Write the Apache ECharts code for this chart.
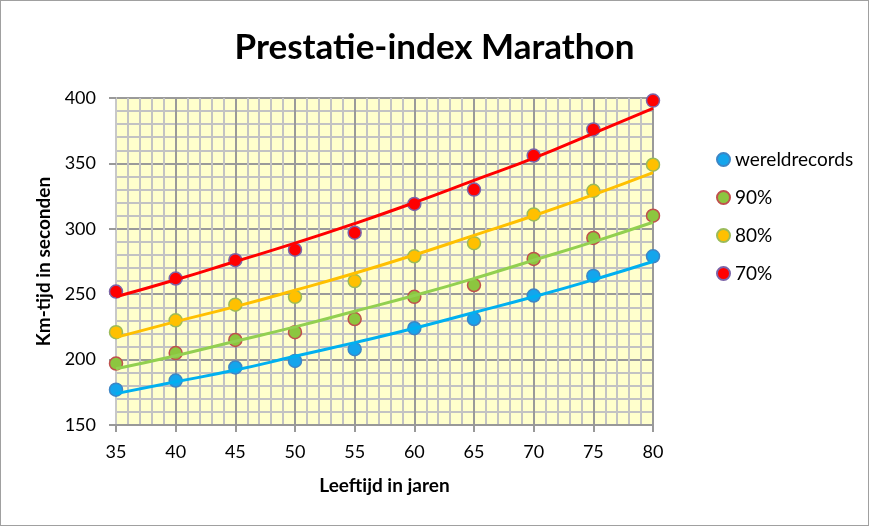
<!DOCTYPE html>
<html>
<head>
<meta charset="utf-8">
<script src="https://cdn.jsdelivr.net/npm/echarts@6/dist/echarts.min.js"></script>
<style>
html,body{margin:0;padding:0;background:#fff;}
#c{width:867px;height:524px;border:1px solid #a0a0a0;}
</style>
</head>
<body>
<div id="c"></div>
<script>
const leeftijd = [35, 40, 45, 50, 55, 60, 65, 70, 75, 80];
const wereldrecords = [177, 184, 194, 199, 208, 224, 231, 249, 264, 279];
const pct90 = [197, 205, 215, 221, 231, 248, 257, 277, 293, 310];
const pct80 = [221, 230, 242, 248, 260, 279, 289, 311, 329, 349];
const pct70 = [252, 262, 276, 284, 297, 319, 330, 356, 376, 398];
// trendlines
const trendWR = [174, 183, 192, 202.5, 213, 224, 236, 248, 261, 275];
const trend90 = [193, 203, 214, 225, 237, 249, 262, 276, 290, 305];
const trend80 = [217, 229, 240.5, 253, 266, 280, 295, 310, 326, 343];
const trend70 = [248, 261, 275, 289, 304, 320, 337, 354, 373, 392];

const pts = a => leeftijd.map((x, i) => [x, a[i]]);
const FONT = 'Lato, "Open Sans", sans-serif';

function scatter(name, data, fill, border) {
  return {
    name, type: 'scatter', data: pts(data), symbol: 'circle', symbolSize: 13, z: 3,
    itemStyle: {color: fill, borderColor: border, borderWidth: 1.5, opacity: 1}
  };
}
function trend(data, color) {
  return {
    type: 'line', data: pts(data), showSymbol: false, symbol: 'none', smooth: true, z: 4,
    lineStyle: {color, width: 3}, silent: true
  };
}

const chart = echarts.init(document.getElementById('c'));
chart.setOption({
  animation: false,
  title: {
    text: 'Prestatie-index Marathon', left: 'center', top: 24,
    textStyle: {fontFamily: FONT, fontWeight: 'bold', fontSize: 35, color: '#000'}
  },
  legend: {
    orient: 'vertical', left: 710, top: 144, itemGap: 19, itemWidth: 13, itemHeight: 13,
    data: ['wereldrecords', '90%', '80%', '70%'],
    textStyle: {fontFamily: FONT, fontSize: 19, color: '#000'}
  },
  grid: {left: 115, right: 215, top: 97, bottom: 100, show: true, backgroundColor: '#ffffcc', borderWidth: 0},
  xAxis: {
    type: 'value', min: 35, max: 80, interval: 5,
    name: 'Leeftijd in jaren', nameLocation: 'middle', nameGap: 51,
    nameTextStyle: {fontFamily: FONT, fontWeight: 'bold', fontSize: 19, color: '#000'},
    axisLine: {show: true, lineStyle: {color: '#999', width: 2}},
    axisTick: {show: true, length: 7, lineStyle: {color: '#999', width: 2}},
    axisLabel: {fontFamily: FONT, fontSize: 18, color: '#000', margin: 18},
    splitLine: {show: true, lineStyle: {color: '#9a9a9a', width: 2}},
    minorTick: {show: false, splitNumber: 5},
    minorSplitLine: {show: true, lineStyle: {color: '#c3c3c3', width: 2}}
  },
  yAxis: {
    type: 'value', min: 150, max: 400, interval: 50,
    name: 'Km-tijd in seconden', nameLocation: 'middle', nameGap: 60, nameRotate: 90,
    nameTextStyle: {fontFamily: FONT, fontWeight: 'bold', fontSize: 19, color: '#000'},
    axisLine: {show: true, lineStyle: {color: '#c8c8c8', width: 2}},
    axisTick: {show: true, length: 7, lineStyle: {color: '#999', width: 2}},
    axisLabel: {fontFamily: FONT, fontSize: 18, color: '#000', margin: 20},
    splitLine: {show: true, lineStyle: {color: '#9a9a9a', width: 2}},
    minorTick: {show: false, splitNumber: 5},
    minorSplitLine: {show: true, lineStyle: {color: '#c3c3c3', width: 2}}
  },
  series: [
    scatter('wereldrecords', wereldrecords, '#14a5ec', '#3d86c6'),
    scatter('90%', pct90, '#8cc63f', '#c0504d'),
    scatter('80%', pct80, '#ffc000', '#9bbb59'),
    scatter('70%', pct70, '#ff0000', '#7b64a8'),
    trend(trendWR, '#00b0f0'),
    trend(trend90, '#92d050'),
    trend(trend80, '#ffc000'),
    trend(trend70, '#ff0000')
  ]
});
</script>
</body>
</html>
